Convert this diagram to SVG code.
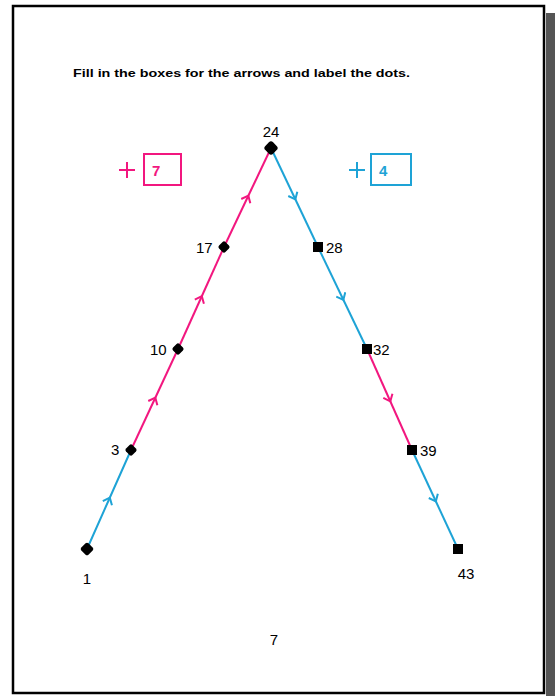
<svg xmlns="http://www.w3.org/2000/svg" width="555" height="696" viewBox="0 0 555 696">
<style>
.lbl{font-family:"Liberation Sans",Arial,sans-serif;font-size:15px;fill:#000}
.mag{stroke:#f2177f;fill:none;stroke-width:2}
.cyn{stroke:#1ea3d6;fill:none;stroke-width:2}
</style>
<defs>
<marker id="am" viewBox="-6 -6 12 12" markerWidth="12" markerHeight="12" markerUnits="userSpaceOnUse" orient="auto" refX="0" refY="0">
<path d="M-4,-5 L2,0 L-4,5" fill="none" stroke="#f2177f" stroke-width="2"/>
</marker>
<marker id="ac" viewBox="-6 -6 12 12" markerWidth="12" markerHeight="12" markerUnits="userSpaceOnUse" orient="auto" refX="0" refY="0">
<path d="M-4,-5 L2,0 L-4,5" fill="none" stroke="#1ea3d6" stroke-width="2"/>
</marker>
</defs>
<rect x="546" y="13" width="9" height="683" fill="#555"/>
<rect x="13" y="6" width="531" height="687" fill="#fff" stroke="#000" stroke-width="2.5"/>
<text x="73" y="77" font-family="Liberation Sans,Arial,sans-serif" font-size="11.5" font-weight="bold" textLength="337" lengthAdjust="spacingAndGlyphs">Fill in the boxes for the arrows and label the dots.</text>
<g id="connectors">
<path class="cyn" d="M87,549 L109,499.5 L131,450" marker-mid="url(#ac)"/>
<path class="mag" d="M131,450 L154.5,399.5 L178,349" marker-mid="url(#am)"/>
<path class="mag" d="M178,349 L201,298 L224,247" marker-mid="url(#am)"/>
<path class="mag" d="M224,247 L247.5,197.5 L271,148" marker-mid="url(#am)"/>
<path class="cyn" d="M271,148 L294.5,197.5 L318,247" marker-mid="url(#ac)"/>
<path class="cyn" d="M318,247 L342.5,298 L367,349" marker-mid="url(#ac)"/>
<path class="mag" d="M367,349 L389.5,399.5 L412,450" marker-mid="url(#am)"/>
<path class="cyn" d="M412,450 L435,499.5 L458,549" marker-mid="url(#ac)"/>
</g>
<g id="op-left">
<path d="M119,170 H135 M127,162 V178" stroke="#f2177f" stroke-width="2"/>
<rect x="144" y="154" width="37" height="31" fill="none" stroke="#f2177f" stroke-width="2"/>
<text x="152" y="176" class="lbl" font-weight="bold" style="fill:#f2177f">7</text>
</g>
<g id="op-right">
<path d="M349,170 H365 M357,162 V178" stroke="#1ea3d6" stroke-width="2"/>
<rect x="371" y="154" width="40" height="31" fill="none" stroke="#1ea3d6" stroke-width="2"/>
<text x="379" y="176" class="lbl" font-weight="bold" style="fill:#1ea3d6">4</text>
</g>
<g id="n1"><rect x="82" y="544" width="10" height="10" transform="rotate(45 87 549)" rx="2"/><text x="87" y="584" class="lbl" text-anchor="middle">1</text></g>
<g id="n3"><rect x="126.5" y="445.5" width="9" height="9" transform="rotate(45 131 450)" rx="2"/><text x="111" y="455" class="lbl">3</text></g>
<g id="n10"><rect x="173.5" y="344.5" width="9" height="9" transform="rotate(45 178 349)" rx="2"/><text x="150" y="355" class="lbl">10</text></g>
<g id="n17"><rect x="219.5" y="242.5" width="9" height="9" transform="rotate(45 224 247)" rx="2"/><text x="196" y="253" class="lbl">17</text></g>
<g id="n24"><rect x="265.5" y="142.5" width="11" height="11" transform="rotate(45 271 148)" rx="3"/><text x="271" y="137" class="lbl" text-anchor="middle">24</text></g>
<g id="n28"><rect x="313" y="242" width="10" height="10"/><text x="326" y="253" class="lbl">28</text></g>
<g id="n32"><rect x="362" y="344" width="10" height="10"/><text x="373" y="355" class="lbl">32</text></g>
<g id="n39"><rect x="407" y="445" width="10" height="10"/><text x="420" y="456" class="lbl">39</text></g>
<g id="n43"><rect x="453" y="544" width="10" height="10"/><text x="466" y="579" class="lbl" text-anchor="middle">43</text></g>
<text x="274" y="645" class="lbl" text-anchor="middle">7</text>
</svg>
